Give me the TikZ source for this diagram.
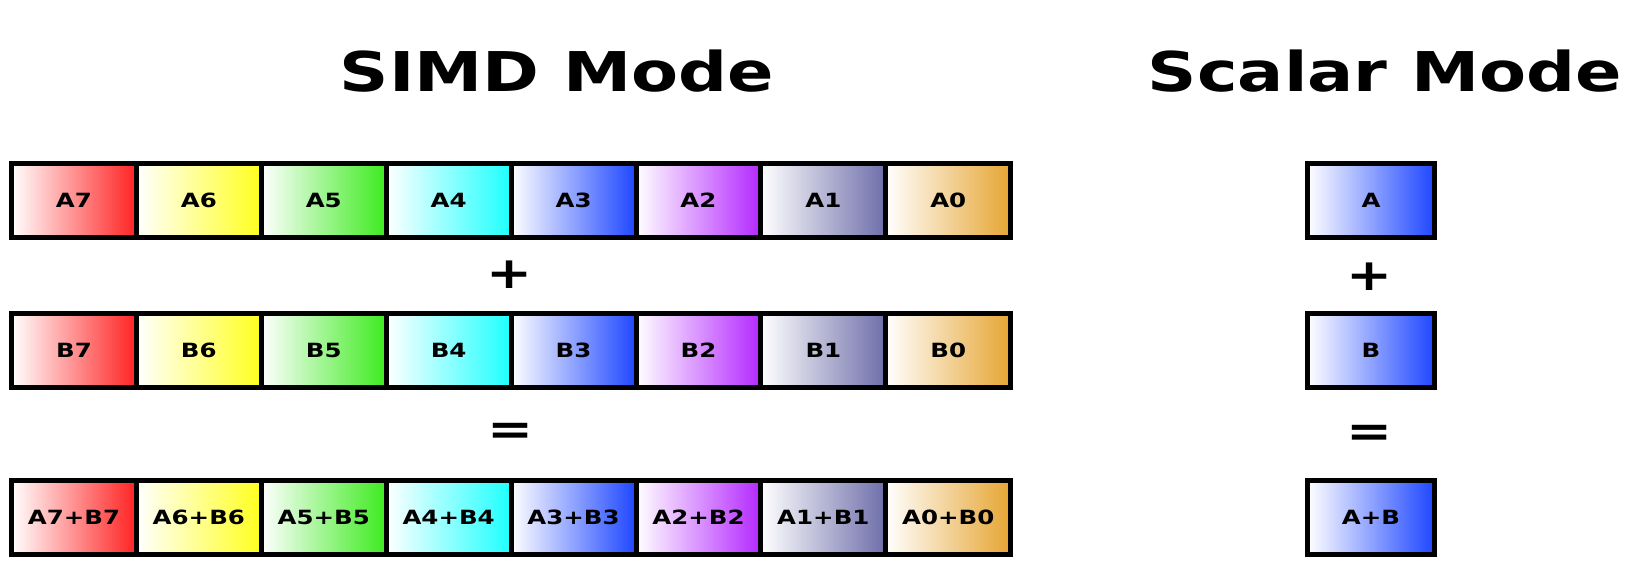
\documentclass[tikz,border=0pt]{standalone}
\usepackage{fontspec}
\newfontfamily\widefont[FakeStretch=1.25]{DejaVu Sans}
\definecolor{lanered}{RGB}{255,34,34}
\definecolor{laneyellow}{RGB}{255,255,30}
\definecolor{lanegreen}{RGB}{60,235,30}
\definecolor{lanecyan}{RGB}{30,255,255}
\definecolor{laneblue}{RGB}{30,70,255}
\definecolor{lanepurple}{RGB}{180,40,255}
\definecolor{laneslate}{RGB}{110,110,170}
\definecolor{laneorange}{RGB}{230,165,50}

\begin{document}
\begin{tikzpicture}[x=0.5pt,y=-0.5pt,
  lane/.style={draw=black,line width=2.5pt,left color=white,right color=#1,
    minimum width=62.45pt,minimum height=37pt,inner sep=0pt,
    font=\widefont\bfseries\fontsize{9.8}{10}\selectfont},
  title/.style={anchor=base,font=\widefont\bfseries\fontsize{27.4}{30}\selectfont},
  sign/.style={font=\widefont\bfseries\fontsize{22}{24}\selectfont}]
  \useasboundingbox (0,0) rectangle (1627,588);
  % titles
  \node[title] (simdtitle) at (557,92) {SIMD Mode};
  \node[title] (scalartitle) at (1385,92) {Scalar Mode};
  % SIMD lanes, highest lane on the left
  \foreach \i/\c [count=\k from 0] in {7/lanered,6/laneyellow,5/lanegreen,4/lanecyan,3/laneblue,2/lanepurple,1/laneslate,0/laneorange}{
    \node[lane=\c] (a\i) at (73.95+124.9*\k,200.5) {A\i};
    \node[lane=\c] (b\i) at (73.95+124.9*\k,350) {B\i};
    \node[lane=\c] (s\i) at (73.95+124.9*\k,517.5) {A\i+B\i};
  }
  \node[sign] (simdplus) at (510,275) {+};
  \node[sign] (simdeq) at (511,434) {=};
  % scalar column
  \node[lane=laneblue,minimum width=63.5pt] (sa) at (1371,200.5) {A};
  \node[lane=laneblue,minimum width=63.5pt] (sb) at (1371,350) {B};
  \node[lane=laneblue,minimum width=63.5pt] (ss) at (1371,517.5) {A+B};
  \node[sign] (scalarplus) at (1370,277) {+};
  \node[sign] (scalareq) at (1370,436) {=};
\end{tikzpicture}
\end{document}
